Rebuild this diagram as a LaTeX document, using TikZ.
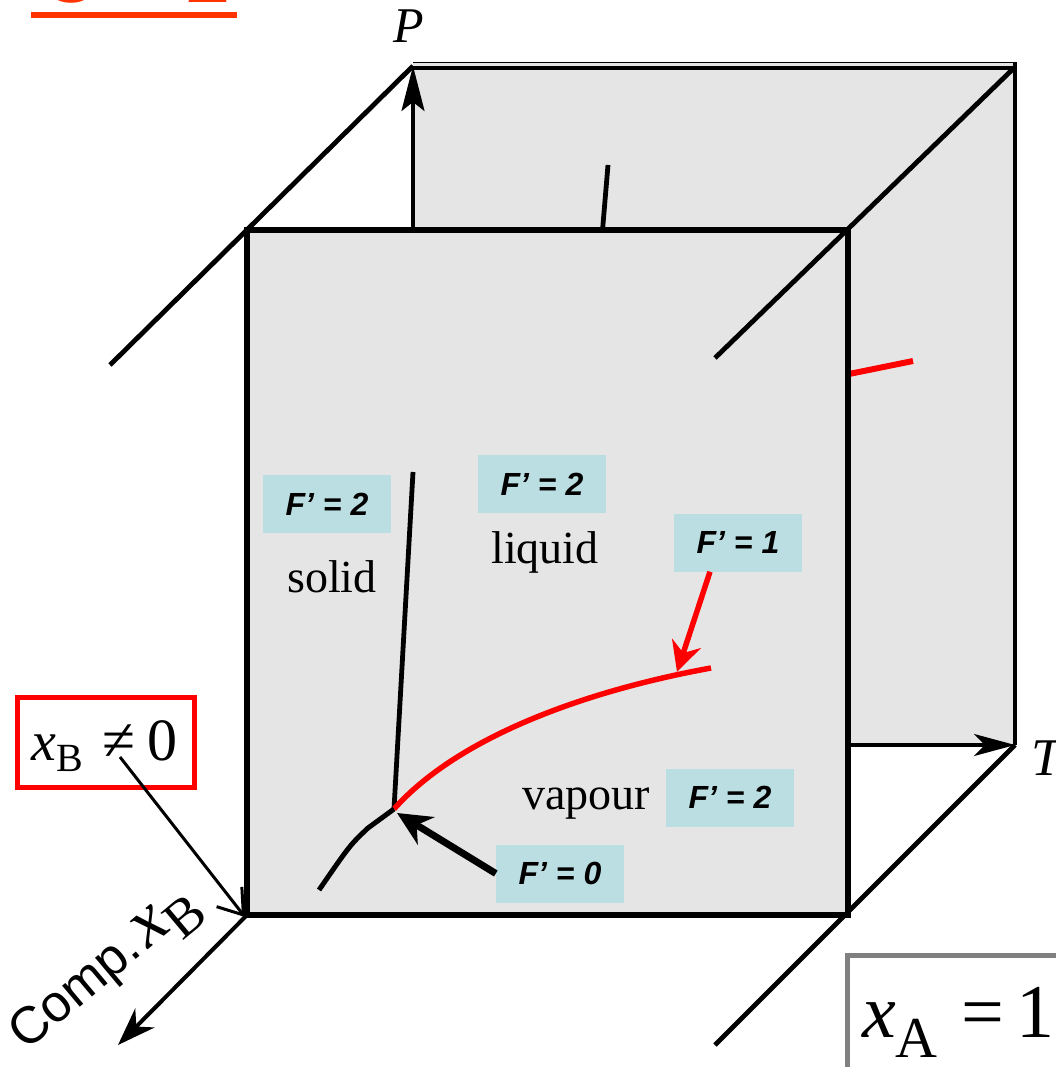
\documentclass[tikz,border=0pt]{standalone}
\usepackage{fontspec}
\setmainfont{Liberation Serif}
\newfontfamily\arial{Liberation Sans}
\usetikzlibrary{arrows.meta}
\definecolor{panel}{RGB}{229,229,229}
\definecolor{boxblue}{RGB}{187,222,226}
\definecolor{titlered}{RGB}{255,51,0}
\definecolor{boxgray}{RGB}{128,128,128}
\begin{document}
\begin{tikzpicture}[x=1pt,y=-1pt,
  edge/.style={line width=4.8pt},
  fbox/.style={fill=boxblue, minimum width=128pt, minimum height=58pt, inner sep=0pt,
    font=\arial\bfseries\itshape\fontsize{32}{34}\selectfont},
  lbl/.style={font=\fontsize{46}{46}\selectfont, anchor=base, inner sep=0pt},
  axlbl/.style={font=\fontsize{50}{50}\selectfont\itshape, inner sep=0pt}]
\useasboundingbox (0,0) rectangle (1055,1067);
% corners
\coordinate (BTL) at (413,66);
\coordinate (BTR) at (1015,67);
\coordinate (BBR) at (1015,745);
\coordinate (BBL) at (413,745);
\coordinate (FTL) at (247,230);
\coordinate (FBR) at (848,915);
\coordinate (FBL) at (247,915);
% title (cut off at top)
\node[anchor=base west, inner sep=0pt, text=titlered, font=\arial\bfseries\fontsize{78}{78}\selectfont] (title) at (41,3) {C = 2};
\draw[titlered, line width=6pt] (31,15) -- (237,15);
% back panel
\fill[panel] (413,62) rectangle (1015,745);
\draw[line width=1.5pt] (413,62.5) -- (1016,62.5);
\draw[line width=4pt] (413,68) -- (1017,68);
\draw[line width=4.8pt] (1015,62) -- (BBR);
\draw[line width=3.6pt, -{Stealth[length=45pt,width=23pt,inset=9pt]}] (BBL) -- (BTL);
\draw[line width=3.4pt, -{Stealth[length=41pt,width=22pt,inset=11pt]}] (BBL) -- (BBR);
\draw[line width=4.8pt] (608,165) -- (600,260);
\draw[red, line width=6pt] (790,386) -- (913,361);
% receding edges
\draw[edge] (110,365) -- (BTL);
\draw[edge] (BBR) -- (715,1045);
\draw[line width=4pt, -{Stealth[length=38pt,width=27pt,inset=12pt]}] (FBL) -- (118,1045);
% front panel
\draw[fill=panel, line width=5.5pt] (FTL) rectangle (FBR);
\draw[edge] (715,358) -- (BTR);
% phase boundaries
\coordinate (tp) at (394,809);
\draw[line width=4.8pt] (413,472) -- (tp);
\draw[red, line width=5.5pt] (tp) .. controls (460,735) and (590,690) .. (711,668);
\draw[line width=5pt] (tp) -- (368,828) .. controls (350,845) .. (319,890);
% F' boxes
\node[fbox] (f2s) at (327,504) {F’ = 2};
\node[fbox] (f2l) at (542,484) {F’ = 2};
\node[fbox] (f1) at (738,542.5) {F’ = 1};
\node[fbox] (f2v) at (730,797.5) {F’ = 2};
\node[fbox] (f0) at (560,873.5) {F’ = 0};
\coordinate (tpa) at (397,813);
\coordinate (lva) at (677,672);
\draw[line width=7pt, -{Stealth[length=34pt,width=32pt,inset=11pt]}] (f0.west) -- (tpa);
\draw[red, line width=5.5pt, -{Stealth[length=30pt,width=30pt,inset=10pt]}] ([xshift=-28pt]f1.south) -- (lva);
% phase labels
\node[lbl] (solid) at (332,592) {solid};
\node[lbl] (liquid) at (545,563) {liquid};
\node[lbl] (vapour) at (586,809) {vapour};
% axis labels
\node[axlbl, anchor=base] (P) at (409,43) {P};
\node[axlbl, anchor=base west, font=\fontsize{53}{53}\selectfont\itshape] (T) at (1031,775) {T};
\node[anchor=base west, inner sep=0pt, rotate=40] (comp) at (26,1052)
  {{\arial\fontsize{52}{52}\selectfont Comp.}\hspace{6pt}{\fontsize{72}{72}\selectfont\itshape x}\raisebox{-16pt}{\fontsize{54}{54}\selectfont B}};
% x_B != 0 box
\node[draw=red, line width=5pt, minimum width=177pt, minimum height=90pt, inner sep=0pt, outer sep=0pt] (xbbox) at (106,742.5) {};
\node[anchor=base west, inner sep=0pt] (xbtext) at (31,760)
  {\fontsize{56}{56}\selectfont\itshape x\upshape\raisebox{-11pt}{\fontsize{40}{40}\selectfont B}\hspace{20pt}{\fontsize{60}{60}\selectfont ≠\hspace{12pt}0}};
\coordinate (xbs) at (120,757);
\coordinate (corner) at (245,917);
\draw[line width=3pt, -{Straight Barb[length=23pt,width=32pt]}] (xbs) -- (corner);
% x_A = 1 box
\node[draw=boxgray, fill=white, line width=5pt, minimum width=240pt, minimum height=130pt, inner sep=0pt, outer sep=0pt, anchor=north west] (xabox) at (847.5,955) {};
\node[anchor=base west, inner sep=0pt] (xatext) at (862,1037)
  {\fontsize{76}{76}\selectfont\itshape x\upshape\raisebox{-20pt}{\fontsize{58}{58}\selectfont A}\hspace{24pt}=\hspace{12pt}1};
\end{tikzpicture}
\end{document}
